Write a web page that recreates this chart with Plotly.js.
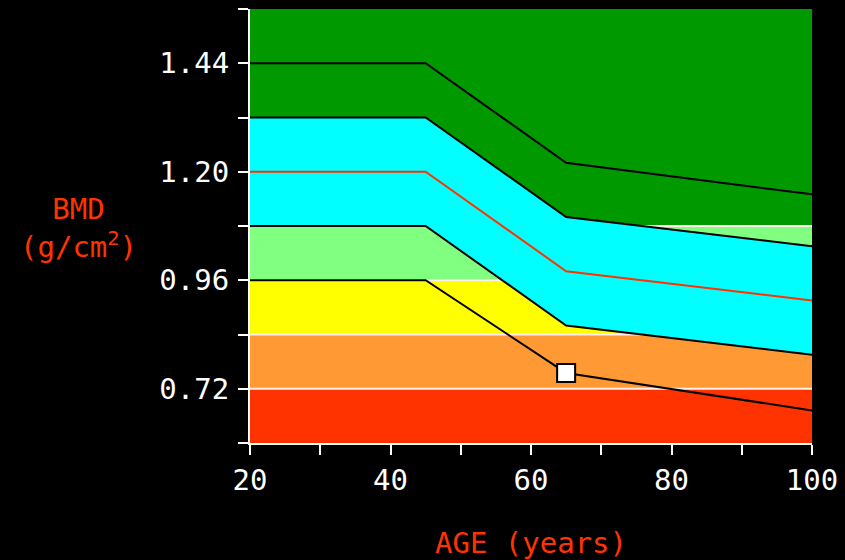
<!DOCTYPE html>
<html>
<head>
<meta charset="utf-8">
<script src="https://cdn.plot.ly/plotly-3.0.1.min.js"></script>
<style>html,body{margin:0;padding:0;background:#000;}#chart{width:845px;height:560px;}</style>
</head>
<body>
<div id="chart"></div>
<script>
// Data
const ages = [20, 45, 65, 100];
const plus2SD = [1.44, 1.44, 1.22, 1.150];
const plus1SD = [1.32, 1.32, 1.10, 1.035];
const meanBMD = [1.20, 1.20, 0.98, 0.915];
const minus1SD = [1.08, 1.08, 0.86, 0.795];
const minus2SD = [0.96, 0.96, 0.755, 0.672];
const bandEdges = [0.60, 0.72, 0.84, 0.96, 1.08, 1.56];
const bandColors = ['#ff3300', '#ff9933', '#ffff00', '#80ff80', '#009900'];
const boundaryLines = [0.72, 0.84, 0.96, 1.08];
const patientAge = [65];
const patientBMD = [0.755];
const xTicks = [20, 40, 60, 80, 100];
const yTicks = [0.72, 0.96, 1.20, 1.44];

const xMin = 20, xMax = 100;
const traces = [];
for (let i = 0; i < bandColors.length; i++) {
  traces.push({
    x: [xMin, xMax, xMax, xMin, xMin],
    y: [bandEdges[i], bandEdges[i], bandEdges[i+1], bandEdges[i+1], bandEdges[i]],
    fill: 'toself', fillcolor: bandColors[i], mode: 'none',
    hoverinfo: 'skip', showlegend: false
  });
}
boundaryLines.forEach(v => {
  traces.push({x: [xMin, xMax], y: [v, v], mode: 'lines',
    line: {color: '#ffeeee', width: 2}, showlegend: false, hoverinfo: 'skip'});
});
traces.push({x: ages, y: minus1SD, mode: 'lines', line: {width: 0, color: '#00ffff'}, showlegend: false, hoverinfo: 'skip'});
traces.push({x: ages, y: plus1SD, mode: 'lines', fill: 'tonexty', fillcolor: '#00ffff', line: {width: 0, color: '#00ffff'}, showlegend: false, hoverinfo: 'skip'});
[plus2SD, plus1SD, minus1SD, minus2SD].forEach(arr => {
  traces.push({x: ages, y: arr, mode: 'lines', line: {color: '#000000', width: 2}, showlegend: false});
});
traces.push({x: ages, y: meanBMD, mode: 'lines', line: {color: '#ff3300', width: 2}, showlegend: false});
traces.push({x: patientAge, y: patientBMD, mode: 'markers',
  marker: {symbol: 'square', size: 18, color: '#ffffff', line: {color: '#000000', width: 2}}, showlegend: false});

const tickFont = {family: 'DejaVu Sans Mono, monospace', size: 29, color: '#ffffff'};
const titleFont = {family: 'DejaVu Sans Mono, monospace', size: 29, color: '#ff3300'};
const layout = {
  width: 845, height: 560,
  paper_bgcolor: '#000000', plot_bgcolor: '#000000',
  margin: {l: 250, r: 33, t: 9, b: 117},
  font: tickFont,
  xaxis: {
    range: [xMin, xMax], tickvals: xTicks, ticktext: xTicks.map(String),
    showgrid: false, zeroline: false, showline: true, linecolor: '#ffffff', linewidth: 2,
    ticks: 'outside', ticklen: 10, tickwidth: 2, tickcolor: '#ffffff',
    minor: {ticks: 'outside', ticklen: 10, tickwidth: 2, tickcolor: '#ffffff', dtick: 10, tick0: 0, showgrid: false},
    tickfont: tickFont,
    title: {text: 'AGE (years)', font: titleFont, standoff: 40}
  },
  yaxis: {
    range: [0.60, 1.56], tickvals: yTicks, ticktext: yTicks.map(v => v.toFixed(2)),
    showgrid: false, zeroline: false, showline: true, linecolor: '#ffffff', linewidth: 2,
    ticks: 'outside', ticklen: 10, tickwidth: 2, tickcolor: '#ffffff',
    minor: {ticks: 'outside', ticklen: 10, tickwidth: 2, tickcolor: '#ffffff', dtick: 0.12, tick0: 0.60, showgrid: false},
    tickfont: tickFont, ticklabelstandoff: 3
  },
  annotations: [{
    xref: 'paper', yref: 'paper', x: -0.305, y: 0.495, xanchor: 'center', yanchor: 'middle',
    text: 'BMD<br>(g/cm<sup>2</sup>)', showarrow: false, align: 'center',
    font: titleFont
  }]
};
Plotly.newPlot('chart', traces, layout, {displayModeBar: false, staticPlot: true});
</script>
</body>
</html>
